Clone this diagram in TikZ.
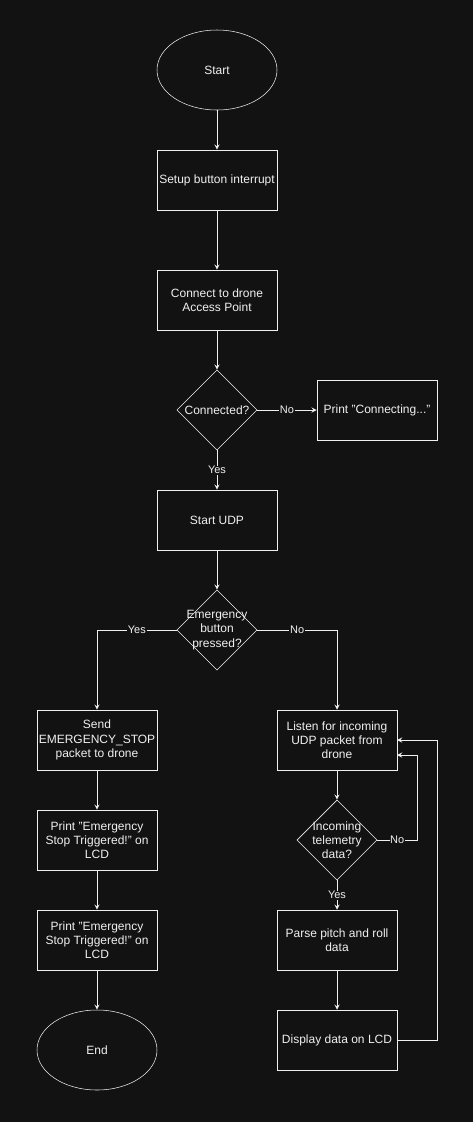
\documentclass[tikz,border=0pt]{standalone}
\usepackage{fontspec}
\setmainfont{Liberation Sans}
\usetikzlibrary{shapes,arrows}
\definecolor{bg}{HTML}{121212}
\definecolor{fg}{HTML}{F0F0F0}
\tikzstyle{proc}=[draw=fg,rectangle,minimum width=90pt,minimum height=45pt,inner sep=1pt,align=center,text=fg]
\tikzstyle{term}=[draw=fg,ellipse,minimum width=90pt,minimum height=60pt,inner sep=0pt,text=fg]
\tikzstyle{decide}=[draw=fg,diamond,minimum width=60pt,minimum height=60pt,inner sep=0pt,text=fg]
\tikzstyle{lbl}=[fill=bg,text=fg,inner sep=0.5pt,font=\fontsize{8.25}{9}\selectfont]
\tikzstyle{flow}=[draw=fg,line width=0.75pt,-stealth]

\begin{document}
\begin{tikzpicture}[x=0.75pt,y=-0.75pt,font=\fontsize{9}{10.7}\selectfont,every label/.style={text=fg,align=center}]
\fill[bg] (0,0) rectangle (473,1122);
\useasboundingbox (0,0) rectangle (473,1122);
% main column
\node[term] (start) at (217,70) {Start};
\node[proc] (setup) at (217,180) {Setup button interrupt};
\node[proc] (connect) at (217,300) {Connect to drone\\Access Point};
\node[decide,label=center:Connected?] (conn) at (217,410) {};
\node[proc] (printc) at (377,410) {Print "Connecting..."};
\node[proc] (udp) at (217,520) {Start UDP};
\node[decide,label={center:Emergency\\button\\pressed?}] (emer) at (217,630) {};
% left branch
\node[proc] (send) at (97,740) {Send\\EMERGENCY\_STOP\\packet to drone};
\node[proc] (pemA) at (97,840) {Print "Emergency\\Stop Triggered!" on\\LCD};
\node[proc] (pemB) at (97,940) {Print "Emergency\\Stop Triggered!" on\\LCD};
\node[term] (end) at (97,1050) {End};
% right branch
\node[proc] (listen) at (337,740) {Listen for incoming\\UDP packet from\\drone};
\node[decide,label={center:Incoming\\telemetry\\data?}] (tele) at (337,840) {};
\node[proc] (parse) at (337,940) {Parse pitch and roll\\data};
\node[proc] (show) at (337,1040) {Display data on LCD};
\coordinate (backA) at (397,755);
\coordinate (backB) at (397,740);

\draw[flow] (start) -- (setup);
\draw[flow] (setup) -- (connect);
\draw[flow] (connect) -- (conn);
\draw[flow] (conn) -- node[lbl] {No} (printc);
\draw[flow] (conn) -- node[lbl] {Yes} (udp);
\draw[flow] (udp) -- (emer);
\draw[flow] (emer.west) -| node[lbl,pos=0.25] {Yes} (send.north);
\draw[flow] (emer.east) -| node[lbl,pos=0.25] {No} (listen.north);
\draw[flow] (send) -- (pemA);
\draw[flow] (pemA) -- (pemB);
\draw[flow] (pemB) -- (end);
\draw[flow] (listen) -- (tele);
\draw[flow] (tele.east) -- node[lbl] {No} ++(40,0) |- (backA);
\draw[flow] (tele) -- node[lbl] {Yes} (parse);
\draw[flow] (parse) -- (show);
\draw[flow] (show.east) -- ++(40,0) |- (backB);
\end{tikzpicture}
\end{document}
